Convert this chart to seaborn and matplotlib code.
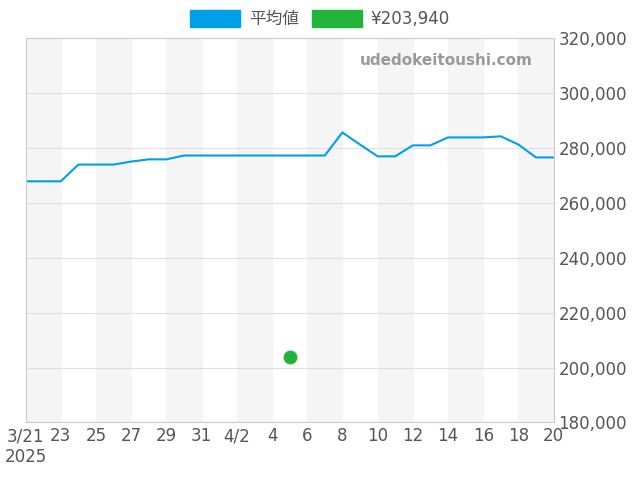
import matplotlib
matplotlib.use("Agg")
import matplotlib.pyplot as plt
import matplotlib.ticker as mticker
from matplotlib.patches import Patch
import pandas as pd
import seaborn as sns

sns.set_style("white")
plt.rcParams['font.family'] = ['DejaVu Sans', 'Noto Sans CJK JP']

dates = pd.date_range("2025-03-21", "2025-04-20", freq="D")
avg = [267900, 267900, 267900, 274000, 274000, 274000, 275100, 275900, 275900,
       277300, 277300, 277300, 277300, 277300, 277300, 277300, 277300, 277300,
       285700, 281300, 277000, 277000, 281000, 281000, 283900, 283900, 283900,
       284300, 281300, 276600, 276600]
point_date = pd.Timestamp("2025-04-05")
point_val = 203940

df = pd.DataFrame({"date": dates, "avg": avg})

fig, ax = plt.subplots(figsize=(6.4, 4.8), dpi=100)
fig.subplots_adjust(left=0.04, right=0.865, top=0.92, bottom=0.12)

for i in range(0, len(dates) - 1, 4):
    ax.axvspan(dates[i], dates[min(i + 2, len(dates) - 1)], color="#f5f5f5", zorder=0)

sns.lineplot(data=df, x="date", y="avg", ax=ax, color="#00a0e9", lw=1.5, legend=False)
ax.scatter([point_date], [point_val], color="#22b33a", s=80, zorder=5)

ax.set_xlim(dates[0], dates[-1])
ax.set_ylim(180000, 320000)
ax.yaxis.tick_right()
ax.yaxis.set_major_locator(mticker.MultipleLocator(20000))
ax.yaxis.set_major_formatter(mticker.FuncFormatter(lambda v, p: f"{int(v):,}"))
ax.grid(axis="y", color="#e0e0e0", lw=0.8)
ticks = dates[::2]
labels = []
for d in ticks:
    if d == dates[0]:
        labels.append("3/21\n2025")
    elif d.day == 2 and d.month == 4:
        labels.append("4/2")
    else:
        labels.append(str(d.day))
ax.set_xticks(ticks)
ax.set_xticklabels(labels)
ax.tick_params(labelsize=12, colors="#555555", length=0)
ax.set_xlabel("")
ax.set_ylabel("")
for s in ax.spines.values():
    s.set_color("#cccccc")

ax.text(0.96, 0.93, "udedokeitoushi.com", transform=ax.transAxes, ha="right",
        fontsize=11, color="#999999", fontweight="bold")

handles = [Patch(color="#00a0e9"), Patch(color="#22b33a")]
fig.legend(handles, ["平均値", "¥203,940"], loc="upper center", ncol=2, frameon=False,
           fontsize=12, bbox_to_anchor=(0.5, 1.01), handlelength=3, handleheight=1.2,
           handletextpad=0.5, columnspacing=0.8, labelcolor="#555555")

fig.savefig("out.png")
